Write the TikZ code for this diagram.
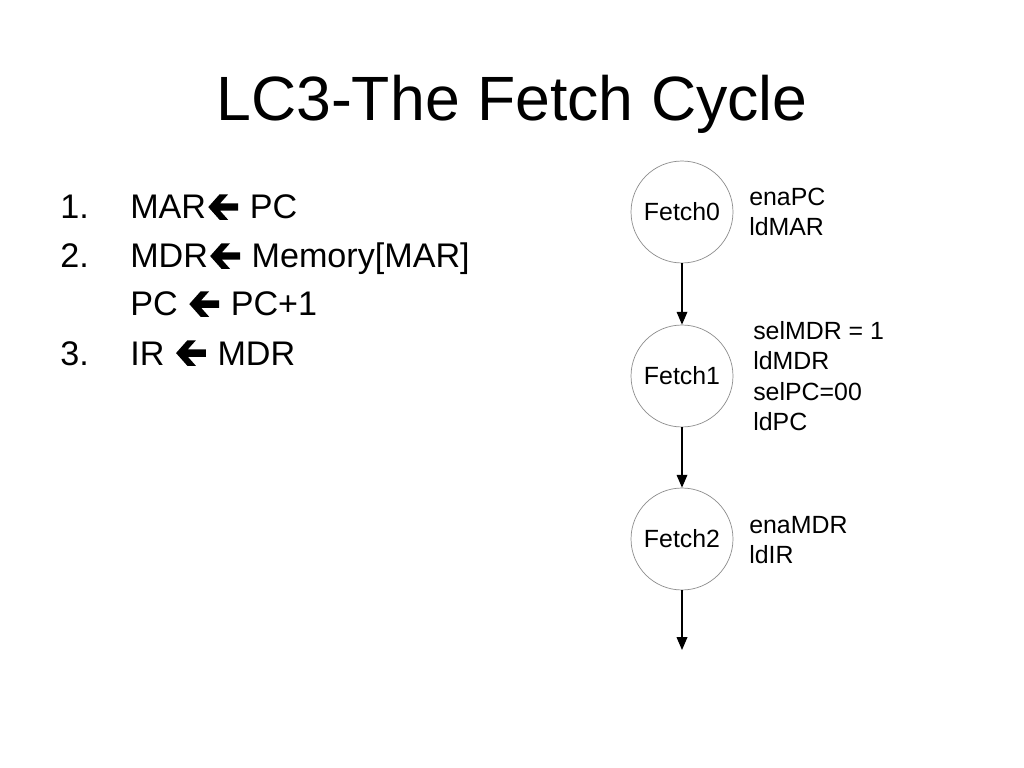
\documentclass[tikz,border=0pt]{standalone}
\usepackage{fontspec}
\setmainfont{Liberation Sans}
\usetikzlibrary{arrows.meta}
\newcommand{\larr}{\hspace{1.5pt}\tikz[baseline=-8.4pt]\fill[black] (0pt,0pt) -- (8pt,9pt) -- (14pt,9pt) -- (8.3pt,2.6pt) -- (21pt,2.6pt) -- (21pt,-2.6pt) -- (8.3pt,-2.6pt) -- (14pt,-9pt) -- (8pt,-9pt) -- cycle;\hspace{1.5pt}}
\begin{document}
\begin{tikzpicture}[x=0.703125pt,y=-0.703125pt,
  titletxt/.style={font=\fontsize{44}{52}\selectfont, inner sep=0, anchor=base},
  listtxt/.style={font=\fontsize{24}{29}\selectfont, inner sep=0, anchor=base west},
  state/.style={circle, draw=black!45, line width=0.5pt, minimum size=71.7pt, inner sep=0,
     font=\fontsize{17.5}{21}\selectfont},
  sidetxt/.style={font=\fontsize{17.5}{21.5}\selectfont, inner sep=0, anchor=west, align=left},
  flow/.style={-{Triangle[length=9pt,width=7.5pt]}, line width=0.9pt, black}]
\useasboundingbox (0,0) rectangle (1024,768);

\node[titletxt] (title) at (512,121) {LC3-The Fetch Cycle};

\node[listtxt] (n1) at (60,219) {1.};
\node[listtxt] (l1) at (130,219) {MAR\larr\ PC};
\node[listtxt] (n2) at (60,268) {2.};
\node[listtxt] (l2) at (130,268) {MDR\larr\ Memory[MAR]};
\node[listtxt] (l2b) at (130,316) {PC \larr\ PC+1};
\node[listtxt] (n3) at (60,365) {3.};
\node[listtxt] (l3) at (130,365) {IR \larr\ MDR};

\node[state] (f0) at (682,212) {Fetch0};
\node[state] (f1) at (682,376) {Fetch1};
\node[state] (f2) at (682,539) {Fetch2};
\coordinate (end) at (682,650);

\node[sidetxt] (s0) at (749,212) {enaPC\\ldMAR};
\node[sidetxt] (s1) at (753,376) {selMDR = 1\\ldMDR\\selPC=00\\ldPC};
\node[sidetxt] (s2) at (749,540) {enaMDR\\ldIR};

\draw[flow] (f0) -- (f1);
\draw[flow] (f1) -- (f2);
\draw[flow] (f2) -- (end);
\end{tikzpicture}
\end{document}
